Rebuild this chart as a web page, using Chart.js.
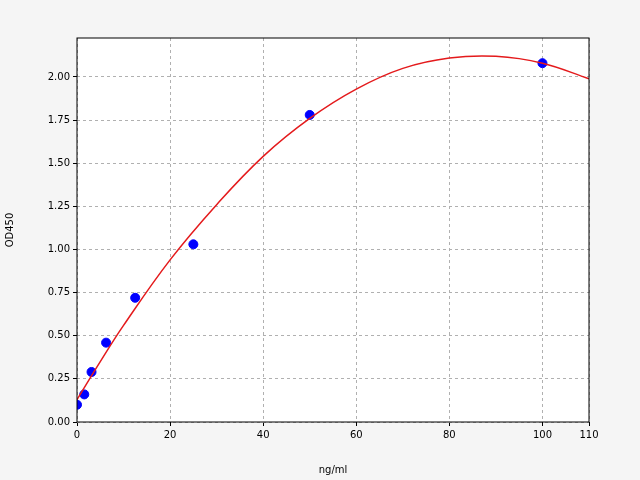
<!DOCTYPE html>
<html>
<head>
<meta charset="utf-8">
<script src="https://cdn.jsdelivr.net/npm/chart.js@4"></script>
<style>
  html, body { margin: 0; padding: 0; background: #f5f5f5; }
  #wrap { width: 640px; height: 480px; }
</style>
</head>
<body>
<div id="wrap"><canvas id="grafico" width="640" height="480"></canvas></div>
<script>
// puntos medidos (ng/ml, OD450)
const concentraciones = [0, 1.56, 3.12, 6.25, 12.5, 25, 50, 100];
const densidades = [0.10, 0.16, 0.29, 0.46, 0.72, 1.03, 1.78, 2.08];

// curva roja
const curvaX = [0, 5, 10, 20, 30, 40, 50, 60, 70, 80, 90, 100, 110];
const curvaY = [0.13, 0.35, 0.56, 0.94, 1.26, 1.54, 1.76, 1.93, 2.05, 2.11, 2.12, 2.08, 1.99];

const ticksY = [0, 0.25, 0.5, 0.75, 1.0, 1.25, 1.5, 1.75, 2.0];

const fondo = {
  id: 'fondo',
  beforeDraw(chart) {
    const { ctx, chartArea: a } = chart;
    ctx.save();
    ctx.fillStyle = '#f5f5f5';
    ctx.fillRect(0, 0, chart.width, chart.height);
    ctx.fillStyle = '#ffffff';
    ctx.fillRect(a.left, a.top, a.right - a.left, a.bottom - a.top);
    ctx.restore();
  },
  afterDraw(chart) {
    const { ctx, chartArea: a } = chart;
    ctx.save();
    ctx.strokeStyle = '#000';
    ctx.lineWidth = 1;
    ctx.strokeRect(a.left, a.top, a.right - a.left, a.bottom - a.top);
    ctx.restore();
  }
};

const fuente = { family: 'DejaVu Sans', size: 10 };

new Chart(document.getElementById('grafico'), {
  type: 'scatter',
  data: {
    datasets: [
      {
        type: 'line',
        data: curvaX.map((x, i) => ({ x, y: curvaY[i] })),
        borderColor: '#e41a1c',
        borderWidth: 1.5,
        pointRadius: 0,
        tension: 0.4,
        fill: false
      },
      {
        data: concentraciones.map((x, i) => ({ x, y: densidades[i] })),
        backgroundColor: '#0000ff',
        borderColor: '#0000ff',
        pointRadius: 4.5
      }
    ]
  },
  options: {
    responsive: false,
    animation: false,
    layout: { padding: { left: 0, top: 38, right: 51, bottom: 0 } },
    plugins: { legend: { display: false }, tooltip: { enabled: false } },
    scales: {
      x: {
        type: 'linear', min: 0, max: 110,
        ticks: { stepSize: 20, color: '#000', font: fuente },
        grid: { color: '#b0b0b0', tickColor: '#000', tickLength: 4, tickBorderDash: [] },
        border: { display: false, dash: [3, 3] },
        title: { display: true, text: 'ng/ml', color: '#000', font: fuente },
        afterFit(s) { s.height = 58; }
      },
      y: {
        min: 0, max: 2.226,
        afterBuildTicks(s) { s.ticks = ticksY.map(v => ({ value: v })); },
        ticks: { color: '#000', font: fuente, callback: v => v.toFixed(2) },
        grid: { color: '#b0b0b0', tickColor: '#000', tickLength: 4, tickBorderDash: [] },
        border: { display: false, dash: [3, 3] },
        title: { display: true, text: 'OD450', color: '#000', font: fuente },
        afterFit(s) { s.width = 77; }
      }
    }
  },
  plugins: [fondo]
});
</script>
</body>
</html>
